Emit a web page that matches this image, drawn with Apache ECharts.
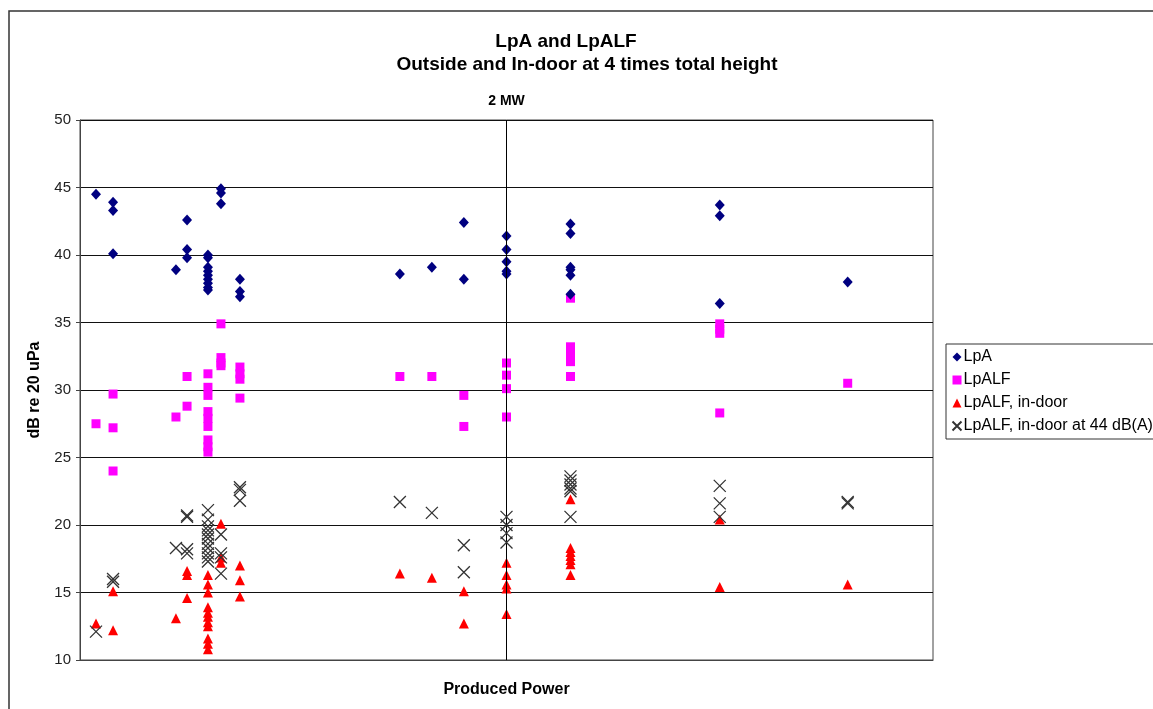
<!DOCTYPE html>
<html>
<head>
<meta charset="utf-8">
<script src="https://cdn.jsdelivr.net/npm/echarts@6/dist/echarts.min.js"></script>
<style>html,body{margin:0;padding:0;background:#fff}#c{width:1153px;height:709px}</style>
</head>
<body>
<div id="c"></div>
<script>
// Produced power (kW) vs level (dB re 20 uPa)
const lpA = [
  [75,44.5],[155,43.9],[155,43.3],[155,40.1],
  [450,38.9],[502,42.6],[502,40.4],[502,39.8],
  [600,40.0],[600,39.8],[600,39.1],[600,38.8],[600,38.5],[600,38.2],[600,37.9],[600,37.6],[600,37.4],
  [661,44.9],[661,44.6],[661,43.8],
  [750,38.2],[750,37.3],[750,36.9],
  [1500,38.6],[1650,39.1],[1800,42.4],[1800,38.2],
  [2000,41.4],[2000,40.4],[2000,39.5],[2000,38.8],[2000,38.6],
  [2300,42.3],[2300,41.6],[2300,39.1],[2300,38.9],[2300,38.5],[2300,37.1],
  [3000,43.7],[3000,42.9],[3000,36.4],
  [3600,38.0]
];
const lpALF = [
  [75,27.5],[155,29.7],[155,27.2],[155,24.0],
  [450,28.0],[502,31.0],[502,28.8],
  [600,31.2],[600,30.2],[600,29.6],[600,28.4],[600,27.9],[600,27.3],[600,26.3],[600,25.8],[600,25.4],
  [661,34.9],[661,32.4],[661,32.0],[661,31.8],
  [750,31.7],[750,31.2],[750,30.8],[750,29.4],
  [1500,31.0],[1650,31.0],[1800,29.6],[1800,27.3],
  [2000,32.0],[2000,31.1],[2000,30.1],[2000,28.0],
  [2300,36.8],[2300,33.2],[2300,32.8],[2300,32.5],[2300,32.1],[2300,31.0],
  [3000,34.9],[3000,34.5],[3000,34.2],[3000,28.3],
  [3600,30.5]
];
const lpALFIndoor = [
  [75,12.7],[155,15.1],[155,12.2],
  [450,13.1],[502,16.6],[502,16.3],[502,14.6],
  [600,16.3],[600,15.6],[600,15.0],[600,13.9],[600,13.5],[600,13.2],[600,12.8],[600,12.5],[600,11.6],[600,11.2],[600,10.8],
  [661,20.1],[661,17.6],[661,17.2],
  [750,17.0],[750,15.9],[750,14.7],
  [1500,16.4],[1650,16.1],[1800,15.1],[1800,12.7],
  [2000,17.2],[2000,16.3],[2000,15.6],[2000,15.3],[2000,13.4],
  [2300,21.9],[2300,18.3],[2300,18.0],[2300,17.7],[2300,17.4],[2300,17.1],[2300,16.3],
  [3000,20.4],[3000,15.4],
  [3600,15.6]
];
const lpALFIndoor44 = [
  [75,12.1],[155,16.0],[155,15.8],
  [450,18.3],[502,20.7],[502,20.6],[502,18.2],[502,17.9],
  [600,21.1],[600,20.4],[600,19.9],[600,19.6],[600,19.3],[600,19.0],[600,18.6],[600,18.3],[600,17.9],[600,17.6],[600,17.3],
  [661,19.3],[661,17.9],[661,17.6],[661,16.4],
  [750,22.8],[750,22.6],[750,21.8],
  [1500,21.7],[1650,20.9],[1800,18.5],[1800,16.5],
  [2000,20.6],[2000,20.0],[2000,19.4],[2000,18.7],
  [2300,23.6],[2300,23.3],[2300,23.0],[2300,22.7],[2300,22.5],[2300,20.6],
  [3000,22.9],[3000,21.6],[3000,20.6],
  [3600,21.7],[3600,21.6]
];
const seriesNames = ['LpA','LpALF','LpALF, in-door','LpALF, in-door at 44 dB(A)'];
const markPower = 2000;
const markLabel = '2 MW';
const titleText = 'LpA and LpALF';
const subtitleText = 'Outside and In-door at 4 times total height';

const FONT = '"Liberation Sans", Arial, sans-serif';
const xPath = 'path://M0,0L10,10M10,0L0,10';

const chart = echarts.init(document.getElementById('c'), null, {renderer: 'canvas'});
chart.setOption({
  animation: false,
  backgroundColor: '#fff',
  textStyle: {fontFamily: FONT},
  graphic: [
    {type: 'rect', silent: true, z: -1, shape: {x: 9, y: 11, width: 1160, height: 720},
     style: {fill: 'none', stroke: '#333', lineWidth: 1.5}},
    {type: 'text', style: {text: titleText, x: 566, y: 42, textAlign: 'center', textVerticalAlign: 'middle', font: 'bold 19px ' + FONT, fill: '#000'}},
    {type: 'text', style: {text: subtitleText, x: 587, y: 65, textAlign: 'center', textVerticalAlign: 'middle', font: 'bold 19px ' + FONT, fill: '#000'}},
    {type: 'text', style: {text: 'dB re 20 uPa', x: 0, y: 0, textAlign: 'center', textVerticalAlign: 'middle', font: 'bold 16px ' + FONT, fill: '#000'}, x: 35, y: 390, rotation: Math.PI / 2}
  ],
  grid: {left: 80, right: 220, top: 120, bottom: 49, show: true, borderColor: '#444', borderWidth: 1, backgroundColor: '#fff'},
  xAxis: {
    type: 'value', min: 0, max: 4000,
    name: 'Produced Power', nameLocation: 'middle', nameGap: 22,
    nameTextStyle: {fontFamily: FONT, fontWeight: 'bold', fontSize: 16, color: '#000'},
    axisLabel: {show: false}, axisTick: {show: false}, splitLine: {show: false},
    axisLine: {show: true, lineStyle: {color: '#444'}}
  },
  yAxis: {
    type: 'value', min: 10, max: 50, interval: 5,
    axisLine: {show: true, lineStyle: {color: '#444'}},
    axisTick: {show: true, length: 4, lineStyle: {color: '#444'}},
    axisLabel: {fontFamily: FONT, fontSize: 15, color: '#222', margin: 9},
    splitLine: {show: true, lineStyle: {color: '#111', width: 1}}
  },
  legend: {
    orient: 'vertical', left: 946, top: 344,
    data: seriesNames,
    itemWidth: 9, itemHeight: 9, itemGap: 7,
    padding: [5, 10, 5, 4],
    borderColor: '#333', borderWidth: 1,
    textStyle: {fontFamily: FONT, fontSize: 16, color: '#000', padding: [0, 0, 0, -3]},
    backgroundColor: '#fff'
  },
  series: [
    {name: seriesNames[0], type: 'scatter', data: lpA, symbol: 'diamond', symbolSize: [10, 11],
     itemStyle: {color: '#000080', opacity: 1}, z: 4,
     markLine: {silent: true, symbol: 'none', animation: false,
       lineStyle: {color: '#000', width: 1, type: 'solid'},
       label: {show: true, position: 'end', formatter: markLabel, distance: 12, fontFamily: FONT, fontWeight: 'bold', fontSize: 14, color: '#000'},
       emphasis: {disabled: true},
       data: [{xAxis: markPower}]}},
    {name: seriesNames[1], type: 'scatter', data: lpALF, symbol: 'rect', symbolSize: 9,
     itemStyle: {color: '#FF00FF', opacity: 1}, z: 3},
    {name: seriesNames[2], type: 'scatter', data: lpALFIndoor, symbol: 'triangle', symbolSize: [10, 10],
     itemStyle: {color: '#FF0000', opacity: 1}, z: 2},
    {name: seriesNames[3], type: 'scatter', data: lpALFIndoor44, symbol: xPath, symbolSize: 12,
     itemStyle: {color: 'none', borderColor: '#333', borderWidth: 1.3, opacity: 1}, z: 5}
  ]
});
</script>
</body>
</html>
